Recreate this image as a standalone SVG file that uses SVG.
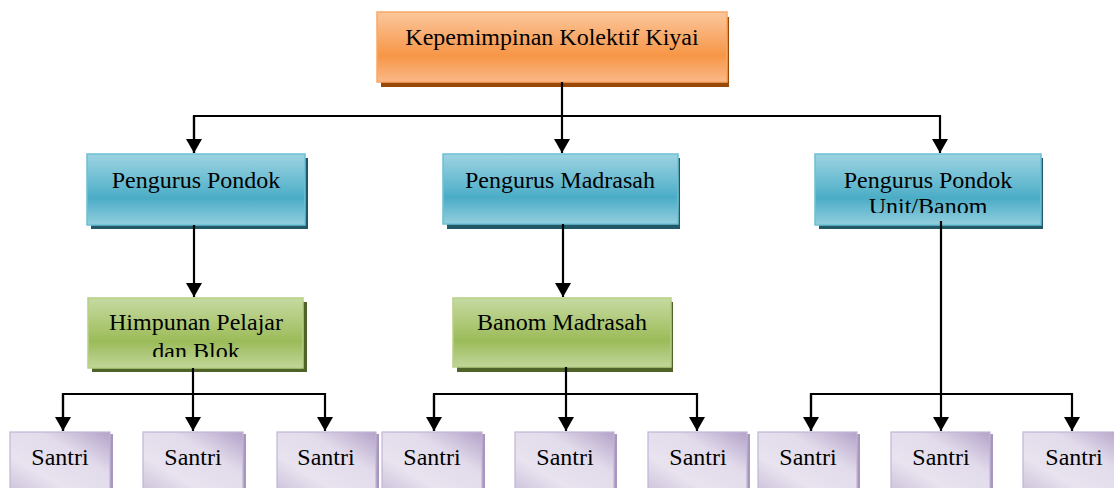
<svg xmlns="http://www.w3.org/2000/svg" width="1114" height="488" viewBox="0 0 1114 488">
<defs>
<linearGradient id="gOrange" x1="0" y1="0" x2="0" y2="1">
<stop offset="0" stop-color="#fbc79c"/><stop offset="0.45" stop-color="#f8a35f"/><stop offset="0.62" stop-color="#f79646"/><stop offset="1" stop-color="#fab887"/>
</linearGradient>
<linearGradient id="gBlue" x1="0" y1="0" x2="0" y2="1">
<stop offset="0" stop-color="#9ed3e2"/><stop offset="0.45" stop-color="#62b8cf"/><stop offset="0.62" stop-color="#4bacc6"/><stop offset="1" stop-color="#93cfdf"/>
</linearGradient>
<linearGradient id="gGreen" x1="0" y1="0" x2="0" y2="1">
<stop offset="0" stop-color="#c6daa2"/><stop offset="0.45" stop-color="#a8c46c"/><stop offset="0.62" stop-color="#9bbb59"/><stop offset="1" stop-color="#c1d69a"/>
</linearGradient>
<linearGradient id="gPurple" x1="1" y1="0" x2="0" y2="1">
<stop offset="0" stop-color="#b3a2c8"/><stop offset="0.35" stop-color="#e2dbeb"/><stop offset="0.7" stop-color="#e8e3ef"/><stop offset="1" stop-color="#cdc2db"/>
</linearGradient>
<marker id="arr" markerUnits="userSpaceOnUse" viewBox="0 -8 14 16" markerWidth="14" markerHeight="16" refX="14" refY="0" orient="auto">
<path d="M0,-8 L14,0 L0,8 z" fill="#000"/>
</marker>
<clipPath id="clipUnit"><rect x="815" y="154" width="226" height="59"/></clipPath>
<clipPath id="clipHim"><rect x="88" y="298" width="215" height="59"/></clipPath>
</defs>
<style>
text{font-family:"Liberation Serif","Times New Roman",serif;font-size:24px;fill:#000;text-anchor:middle}
.o{fill:url(#gOrange);stroke:#f9a866;stroke-width:1.5}
.os{fill:#984807}
.b{fill:url(#gBlue);stroke:#6cc0d6;stroke-width:1.5}
.bs{fill:#215968}
.g{fill:url(#gGreen);stroke:#b5cf85;stroke-width:1.5}
.gs{fill:#4f6228}
.p{fill:url(#gPurple);stroke:#c2b5d6;stroke-width:1.2}
.ps{fill:#a796bd}
.c{fill:none;stroke:#000;stroke-width:2.2}
</style>
<g id="kiyai">
<rect class="os" x="381" y="17" width="348" height="70"/>
<rect class="o" x="377" y="12" width="350" height="70"/>
<text x="552" y="45">Kepemimpinan Kolektif Kiyai</text>
</g>
<g id="pengurus-pondok">
<rect class="bs" x="91" y="158" width="217" height="71"/>
<rect class="b" x="87" y="154" width="218" height="71"/>
<text x="196" y="188">Pengurus Pondok</text>
</g>
<g id="pengurus-madrasah">
<rect class="bs" x="447" y="158" width="233" height="71"/>
<rect class="b" x="443" y="154" width="235" height="70"/>
<text x="560" y="188">Pengurus Madrasah</text>
</g>
<g id="pengurus-unit">
<rect class="bs" x="819" y="158" width="224" height="71"/>
<rect class="b" x="815" y="154" width="226" height="71"/>
<g clip-path="url(#clipUnit)">
<text x="928" y="188">Pengurus Pondok</text>
<text x="928" y="214">Unit/Banom</text>
</g>
</g>
<g id="himpunan">
<rect class="gs" x="92" y="302" width="215" height="70"/>
<rect class="g" x="88" y="298" width="215" height="70"/>
<g clip-path="url(#clipHim)">
<text x="196" y="330">Himpunan Pelajar</text>
<text x="196" y="359">dan Blok</text>
</g>
</g>
<g id="banom-madrasah">
<rect class="gs" x="457" y="302" width="216" height="70"/>
<rect class="g" x="453" y="298" width="218" height="69"/>
<text x="562" y="330">Banom Madrasah</text>
</g>
<g id="santri-1"><rect class="ps" x="13" y="434" width="100" height="60"/><rect class="p" x="10" y="432" width="100" height="60"/><text x="60" y="465">Santri</text></g>
<g id="santri-2"><rect class="ps" x="146" y="434" width="100" height="60"/><rect class="p" x="143" y="432" width="100" height="60"/><text x="193" y="465">Santri</text></g>
<g id="santri-3"><rect class="ps" x="280" y="434" width="99" height="60"/><rect class="p" x="277" y="432" width="99" height="60"/><text x="326" y="465">Santri</text></g>
<g id="santri-4"><rect class="ps" x="385" y="434" width="100" height="60"/><rect class="p" x="382" y="432" width="100" height="60"/><text x="432" y="465">Santri</text></g>
<g id="santri-5"><rect class="ps" x="518" y="434" width="99" height="60"/><rect class="p" x="515" y="432" width="99" height="60"/><text x="565" y="465">Santri</text></g>
<g id="santri-6"><rect class="ps" x="651" y="434" width="99" height="60"/><rect class="p" x="648" y="432" width="99" height="60"/><text x="698" y="465">Santri</text></g>
<g id="santri-7"><rect class="ps" x="761" y="434" width="99" height="60"/><rect class="p" x="758" y="432" width="99" height="60"/><text x="808" y="465">Santri</text></g>
<g id="santri-8"><rect class="ps" x="894" y="434" width="99" height="60"/><rect class="p" x="891" y="432" width="99" height="60"/><text x="941" y="465">Santri</text></g>
<g id="santri-9"><rect class="ps" x="1026" y="434" width="101" height="60"/><rect class="p" x="1023" y="432" width="101" height="60"/><text x="1074" y="465">Santri</text></g>
<g id="connectors">
<line class="c" x1="562" y1="82" x2="562" y2="153" marker-end="url(#arr)"/>
<polyline class="c" points="194,153 194,116 940,116 940,153" marker-end="url(#arr)"/>
<line class="c" x1="194" y1="116" x2="194" y2="153" marker-end="url(#arr)"/>
<line class="c" x1="194" y1="225" x2="194" y2="297" marker-end="url(#arr)"/>
<line class="c" x1="563" y1="224" x2="563" y2="297" marker-end="url(#arr)"/>
<line class="c" x1="193" y1="368" x2="193" y2="431" marker-end="url(#arr)"/>
<polyline class="c" points="63,431 63,394 325,394 325,431" marker-end="url(#arr)"/>
<line class="c" x1="63" y1="394" x2="63" y2="431" marker-end="url(#arr)"/>
<line class="c" x1="566" y1="367" x2="566" y2="431" marker-end="url(#arr)"/>
<polyline class="c" points="434,431 434,394 697,394 697,431" marker-end="url(#arr)"/>
<line class="c" x1="434" y1="394" x2="434" y2="431" marker-end="url(#arr)"/>
<line class="c" x1="941" y1="221" x2="941" y2="431" marker-end="url(#arr)"/>
<polyline class="c" points="811,431 811,394 1072,394 1072,431" marker-end="url(#arr)"/>
<line class="c" x1="811" y1="394" x2="811" y2="431" marker-end="url(#arr)"/>
</g>
</svg>
